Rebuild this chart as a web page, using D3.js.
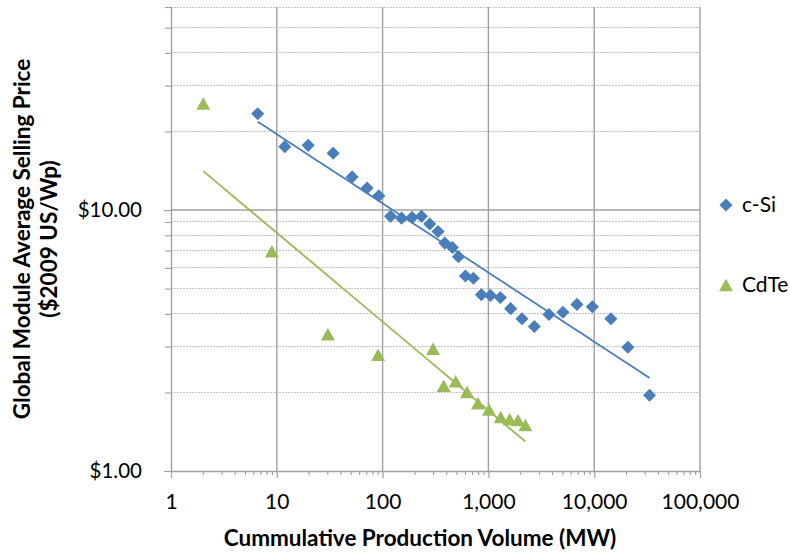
<!DOCTYPE html>
<html>
<head>
<meta charset="utf-8">
<script src="https://cdn.jsdelivr.net/npm/d3@7"></script>
<style>
  html, body { margin: 0; padding: 0; background: #fff; }
  svg { display: block; }
  text { font-family: Lato, "Open Sans", sans-serif; fill: #000; }
</style>
</head>
<body>
<svg id="chart" width="790" height="552"></svg>
<script>
// ---- data ----
const seriesNames = ["c-Si", "CdTe"];
const cSiVolume = [6.6, 11.9, 19.8, 34.1, 51.5, 71.4, 92.1, 119, 151, 190, 233, 279, 334, 387, 457, 521, 607, 722, 859, 1045, 1298, 1624, 2077, 2718, 3736, 5060, 6870, 9600, 14380, 20800, 33350];
const cSiPrice  = [23.4, 17.5, 17.7, 16.5, 13.4, 12.15, 11.35, 9.46, 9.31, 9.37, 9.46, 8.84, 8.28, 7.47, 7.19, 6.63, 5.59, 5.48, 4.74, 4.71, 4.62, 4.19, 3.83, 3.58, 3.98, 4.06, 4.35, 4.26, 3.83, 2.98, 1.95];
const cdTeVolume = [2.02, 8.99, 30.4, 90.7, 300, 378, 491, 628, 797, 1013, 1306, 1589, 1905, 2235];
const cdTePrice  = [25.6, 6.96, 3.34, 2.79, 2.94, 2.12, 2.21, 2.01, 1.82, 1.72, 1.61, 1.58, 1.57, 1.50];
const xMajorTicks = [1, 10, 100, 1000, 10000, 100000];
const yMajorTicks = [1, 10];
const yMinorTicks = [2, 3, 4, 5, 6, 7, 8, 9, 20, 30, 40, 50, 60];
const xDomain = [1, 100000];
const yDomain = [1, 60];
const xTitle = "Cummulative Production Volume (MW)";
const yTitleLines = ["Global Module Average Selling Price", "($2009 US/Wp)"];

// ---- layout ----
const W = 790, H = 552;
const plot = { left: 171, right: 700, top: 7, bottom: 471 };
const colors = { cSi: "#4a7ebb", cdTe: "#9bbb59" };
const gridMajor = "#a0a0a0", gridMinor = "#c4c4c4";

const svg = d3.select("#chart");
const x = d3.scaleLog().domain(xDomain).range([plot.left, plot.right]);
const y = d3.scaleLog().domain(yDomain).range([plot.bottom, plot.top]);

// minor x ticks (2..9 per decade) derived from major ticks
const xMinorTicks = [];
xMajorTicks.slice(0, -1).forEach(m => { for (let k = 2; k <= 9; k++) xMinorTicks.push(m * k); });

// minor horizontal gridlines (dotted)
svg.append("g").selectAll("line").data(yMinorTicks).join("line")
  .attr("x1", plot.left).attr("x2", plot.right)
  .attr("y1", d => y(d)).attr("y2", d => y(d))
  .attr("stroke", gridMinor).attr("stroke-width", 1).attr("stroke-dasharray", "1.5,1.5")
  .attr("shape-rendering", "crispEdges");

// major gridlines
svg.append("g").selectAll("line").data(xMajorTicks.slice(1)).join("line")
  .attr("x1", d => x(d)).attr("x2", d => x(d))
  .attr("y1", plot.top).attr("y2", plot.bottom)
  .attr("stroke", gridMajor).attr("stroke-width", 1.4);
svg.append("g").selectAll("line").data(yMajorTicks.slice(1)).join("line")
  .attr("x1", plot.left).attr("x2", plot.right)
  .attr("y1", d => y(d)).attr("y2", d => y(d))
  .attr("stroke", gridMajor).attr("stroke-width", 1.4);

// axes
function styleAxis(g) {
  g.select(".domain").attr("stroke", gridMajor).attr("stroke-width", 1.4);
  g.selectAll(".tick line").attr("stroke", gridMajor).attr("stroke-width", 1.2);
}
const xAxisMinor = svg.append("g").attr("transform", `translate(0,${plot.bottom})`)
  .call(d3.axisBottom(x).tickValues(xMinorTicks).tickSize(4).tickFormat(""));
xAxisMinor.select(".domain").remove();
xAxisMinor.selectAll(".tick line").attr("stroke", gridMajor).attr("stroke-width", 1.1);

const xAxis = svg.append("g").attr("transform", `translate(0,${plot.bottom})`)
  .call(d3.axisBottom(x).tickValues(xMajorTicks).tickSize(7).tickSizeOuter(0).tickPadding(16)
    .tickFormat(d3.format(",")));
styleAxis(xAxis);
xAxis.selectAll("text").style("font-size", "21px").attr("fill", "#000");

const yAxisMinor = svg.append("g").attr("transform", `translate(${plot.left},0)`)
  .call(d3.axisLeft(y).tickValues(yMinorTicks).tickSize(6).tickFormat(""));
yAxisMinor.select(".domain").remove();
yAxisMinor.selectAll(".tick line").attr("stroke", gridMajor).attr("stroke-width", 1.1);

const yAxis = svg.append("g").attr("transform", `translate(${plot.left},0)`)
  .call(d3.axisLeft(y).tickValues(yMajorTicks).tickSize(7).tickSizeOuter(0).tickPadding(22)
    .tickFormat(d3.format("$.2f")));
styleAxis(yAxis);
yAxis.selectAll("text").style("font-size", "20.5px").attr("fill", "#000");

// power-law trend lines (least squares in log-log space)
function powerFit(xs, ys) {
  const lx = xs.map(Math.log), ly = ys.map(Math.log);
  const mx = d3.mean(lx), my = d3.mean(ly);
  const b = d3.sum(lx, (v, i) => (v - mx) * (ly[i] - my)) / d3.sum(lx, v => (v - mx) ** 2);
  const a = my - b * mx;
  const x0 = d3.min(xs), x1 = d3.max(xs);
  return d3.range(0, 41).map(i => {
    const xv = Math.exp(Math.log(x0) + (Math.log(x1) - Math.log(x0)) * i / 40);
    return [xv, Math.exp(a) * Math.pow(xv, b)];
  });
}
const line = d3.line().x(d => x(d[0])).y(d => y(d[1]));
svg.append("path").datum(powerFit(cSiVolume, cSiPrice))
  .attr("d", line).attr("fill", "none").attr("stroke", colors.cSi).attr("stroke-width", 1.8);
svg.append("path").datum(powerFit(cdTeVolume, cdTePrice))
  .attr("d", line).attr("fill", "none").attr("stroke", colors.cdTe).attr("stroke-width", 1.8);

// markers
const diamond = d3.symbol().type(d3.symbolSquare).size(86)();
const triW = 14, triH = 12.5;
const triangle = `M0,${-triH / 2}L${triW / 2},${triH / 2}L${-triW / 2},${triH / 2}Z`;

svg.append("g").selectAll("path").data(d3.zip(cSiVolume, cSiPrice)).join("path")
  .attr("d", diamond)
  .attr("transform", d => `translate(${x(d[0])},${y(d[1])}) rotate(45)`)
  .attr("fill", colors.cSi);
svg.append("g").selectAll("path").data(d3.zip(cdTeVolume, cdTePrice)).join("path")
  .attr("d", triangle)
  .attr("transform", d => `translate(${x(d[0])},${y(d[1])})`)
  .attr("fill", colors.cdTe);

// legend
const legend = svg.append("g");
const legendItems = [
  { name: seriesNames[0], shape: diamond, rot: 45, color: colors.cSi, cy: 205 },
  { name: seriesNames[1], shape: triangle, rot: 0, color: colors.cdTe, cy: 285 }
];
legendItems.forEach(it => {
  legend.append("path").attr("d", it.shape)
    .attr("transform", `translate(726,${it.cy}) rotate(${it.rot})`).attr("fill", it.color);
  legend.append("text").attr("x", 742).attr("y", it.cy).attr("dy", "0.35em")
    .style("font-size", "21px").text(it.name);
});

// axis titles
svg.append("text").attr("x", 420).attr("y", 546).attr("text-anchor", "middle")
  .style("font-size", "22.5px").style("font-weight", "bold").text(xTitle);
const yt = svg.append("text").attr("transform", "translate(0,239) rotate(-90)")
  .attr("text-anchor", "middle").style("font-size", "22.5px").style("font-weight", "bold");
yTitleLines.forEach((t, i) => yt.append("tspan").attr("x", 0).attr("y", 30 + i * 27).text(t));
</script>
</body>
</html>
